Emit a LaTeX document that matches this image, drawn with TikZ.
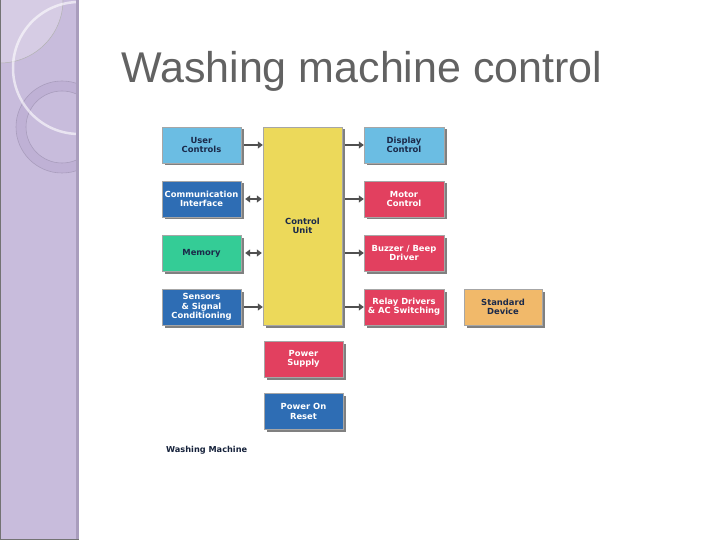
\documentclass[tikz,border=0pt]{standalone}
\usepackage{fontspec}
\setmainfont{DejaVu Sans}
\newfontfamily\titlefont{Liberation Sans}
\usetikzlibrary{arrows.meta,shadows}
\definecolor{sidebar}{HTML}{C8BCDC}
\definecolor{sidelight}{HTML}{D6CCE4}
\definecolor{sidering}{HTML}{BFB1D5}
\definecolor{sideedge}{HTML}{A99DBD}
\definecolor{lblue}{HTML}{6BBDE3}
\definecolor{mblue}{HTML}{2E6DB4}
\definecolor{mgreen}{HTML}{34CC96}
\definecolor{mred}{HTML}{E2405F}
\definecolor{myellow}{HTML}{ECD95A}
\definecolor{morange}{HTML}{F1B96A}
\definecolor{darktext}{HTML}{1B2A4A}
\definecolor{titlegrey}{HTML}{626262}
\definecolor{arrowgrey}{HTML}{505050}
\tikzset{
  blk/.style={minimum width=79pt, minimum height=36pt, inner sep=1pt, align=center,
    font=\fontsize{8.4}{9.4}\selectfont\bfseries,
    draw=black!35, line width=0.4pt,
    drop shadow={shadow xshift=2.5pt, shadow yshift=-2.5pt, fill=black!55, opacity=0.9}},
  lightblk/.style={blk, text=darktext},
  darkblk/.style={blk, text=white},
  conn/.style={draw=arrowgrey, line width=1.8pt, -{Triangle[length=5pt,width=7pt]}},
  bconn/.style={draw=arrowgrey, line width=1.8pt, {Triangle[length=5pt,width=7pt]}-{Triangle[length=5pt,width=7pt]}}
}
\begin{document}
\begin{tikzpicture}[x=1pt,y=-1pt]
\useasboundingbox (0,0) rectangle (720,540);
\fill[white] (0,0) rectangle (720,540);
% sidebar
\begin{scope}
\clip (0,0) rectangle (77,540);
\fill[sidebar] (0,0) rectangle (77,540);
\fill[sidelight] (0,0) circle (63);
\draw[black!30, line width=0.5pt] (0,0) circle (63);
\fill[sidering, even odd rule] (62,127) circle (46) (62,127) circle (36);
\draw[sideedge, line width=0.6pt] (62,127) circle (46) (62,127) circle (36);
\draw[white, opacity=0.6, line width=2.5pt] (79,68) circle (66);
\end{scope}
\fill[sideedge] (75.5,0) rectangle (78.5,540);
\draw[black!55, line width=0.8pt] (0.4,0) -- (0.4,540);
\draw[black!55, line width=1pt] (0,539) -- (78.5,539);
% title
\node[anchor=base west, inner sep=0pt, text=titlegrey, font=\titlefont\fontsize{43}{50}\selectfont] (title) at (121,83) {Washing machine control};
% left column
\node[lightblk, fill=lblue] (uc) at (201.5,145) {User\\Controls};
\node[darkblk, fill=mblue] (ci) at (201.5,199) {Communication\\Interface};
\node[lightblk, fill=mgreen] (mem) at (201.5,253) {Memory};
\node[darkblk, fill=mblue] (sen) at (201.5,307) {Sensors\\\& Signal\\Conditioning};
% control unit
\node[lightblk, fill=myellow, minimum height=198pt] (cu) at (302.5,226) {Control\\Unit};
\node[darkblk, fill=mred] (ps) at (303.5,359) {Power\\Supply};
\node[darkblk, fill=mblue] (por) at (303.5,411.5) {Power On\\Reset};
% right column
\node[lightblk, fill=lblue, minimum width=80pt] (dc) at (404,145) {Display\\Control};
\node[darkblk, fill=mred, minimum width=80pt] (mc) at (404,199) {Motor\\Control};
\node[darkblk, fill=mred, minimum width=80pt] (bz) at (404,253) {Buzzer / Beep\\Driver};
\node[darkblk, fill=mred, minimum width=80pt] (rd) at (404,307) {Relay Drivers\\\& AC Switching};
\node[lightblk, fill=morange, minimum width=78pt] (sd) at (503,307) {Standard\\Device};
% label
\node[anchor=west, inner sep=0pt, font=\fontsize{8.2}{9}\selectfont\bfseries, text=darktext!80!black] (wm) at (166,450) {Washing Machine};
% connectors
\draw[conn] ([xshift=3pt]uc.east) -- (uc.east -| cu.west);
\draw[bconn] ([xshift=4pt]ci.east) -- ([xshift=-1pt]ci.east -| cu.west);
\draw[bconn] ([xshift=4pt]mem.east) -- ([xshift=-1pt]mem.east -| cu.west);
\draw[conn] ([xshift=3pt]sen.east) -- (sen.east -| cu.west);
\draw[conn] ([xshift=3pt]dc.west -| cu.east) -- (dc.west);
\draw[conn] ([xshift=3pt]mc.west -| cu.east) -- (mc.west);
\draw[conn] ([xshift=3pt]bz.west -| cu.east) -- (bz.west);
\draw[conn] ([xshift=3pt]rd.west -| cu.east) -- (rd.west);
\end{tikzpicture}
\end{document}
